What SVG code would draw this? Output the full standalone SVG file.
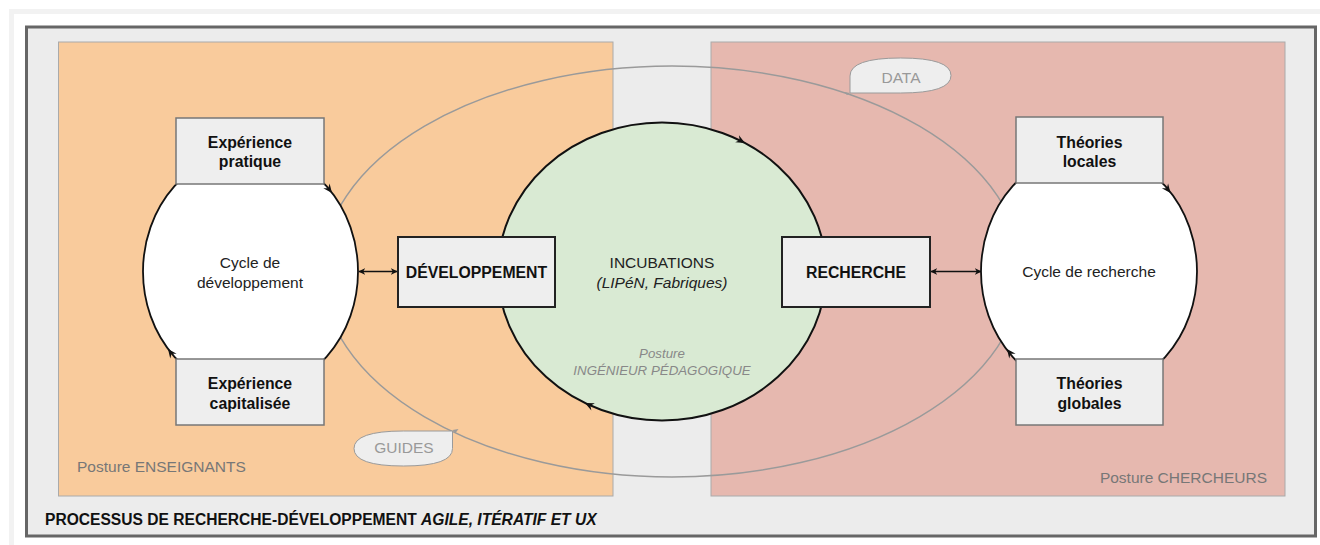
<svg xmlns="http://www.w3.org/2000/svg" width="1320" height="545" viewBox="0 0 1320 545">
<defs>
<style>
text{font-family:"Liberation Sans",Arial,sans-serif;}
.b{font-weight:bold;font-size:15.8px;fill:#111;text-anchor:middle;}
.r{font-size:15.5px;fill:#222;text-anchor:middle;}
.box{fill:#eeeeee;stroke:#777;stroke-width:1.5;}
.bbox{fill:#eeeeee;stroke:#222;stroke-width:2;}
.cyc{fill:#ffffff;stroke:#111;stroke-width:1.8;}
.gl{fill:none;stroke:#9a9a9a;stroke-width:1.5;}
.call{fill:#eeeeee;stroke:#9a9a9a;stroke-width:1;}
.ct{font-size:15.5px;fill:#999;text-anchor:middle;}
.post{font-size:15.5px;fill:#777;}
.ah{fill:#111;}
</style>
<marker id="arr" viewBox="0 0 10 10" refX="9" refY="5" markerWidth="7" markerHeight="7" orient="auto-start-reverse" markerUnits="userSpaceOnUse">
<path d="M0,0 L10,5 L0,10 L3,5 Z" fill="#111"/>
</marker>
</defs>
<rect x="0" y="0" width="1320" height="545" fill="#ffffff"/>
<rect x="11.5" y="11.5" width="1320" height="545" fill="none" stroke="#f2f2f2" stroke-width="5"/>
<rect id="frame" x="26.5" y="27" width="1289" height="509" fill="#ececec" stroke="#666" stroke-width="3"/>
<g id="zone-enseignants">
<rect x="58.5" y="42" width="554.5" height="454" fill="#f9cb9c" stroke="#aaa" stroke-width="1"/>
<text class="post" x="77" y="472">Posture ENSEIGNANTS</text>
</g>
<g id="zone-chercheurs">
<rect x="711" y="42" width="574" height="454" fill="#e6b8af" stroke="#aaa" stroke-width="1"/>
<text class="post" x="1267" y="483" text-anchor="end">Posture CHERCHEURS</text>
</g>
<g id="connectors">
<ellipse class="gl" cx="672" cy="271.5" rx="350" ry="205.5"/>
<path d="M850,93 l-6,-1 l3,3 z" fill="#9a9a9a"/>
<path d="M452.5,430 l6,-1 l-3,4 z" fill="#9a9a9a"/>
<line x1="359" y1="271.5" x2="397" y2="271.5" stroke="#111" stroke-width="1.5" marker-start="url(#arr)" marker-end="url(#arr)"/>
<line x1="931" y1="271.5" x2="981" y2="271.5" stroke="#111" stroke-width="1.5" marker-start="url(#arr)" marker-end="url(#arr)"/>
</g>
<g id="incubations">
<ellipse cx="662" cy="271.5" rx="164" ry="149" fill="#d9ead3" stroke="#111" stroke-width="2"/>
<path class="ah" d="M0,0 L-9,-4 L-6,0 L-9,4 Z" transform="translate(745,143) rotate(28)"/>
<path class="ah" d="M0,0 L-9,-4 L-6,0 L-9,4 Z" transform="translate(585,403) rotate(206)"/>
<text class="r" x="662" y="268">INCUBATIONS</text>
<text class="r" x="662" y="288" font-style="italic">(LIPéN, Fabriques)</text>
<text x="662" y="358" font-size="13.3" font-style="italic" fill="#888" text-anchor="middle">Posture</text>
<text x="662" y="375" font-size="13.3" font-style="italic" fill="#888" text-anchor="middle">INGÉNIEUR PÉDAGOGIQUE</text>
</g>
<g id="cycle-dev">
<ellipse class="cyc" cx="250.5" cy="271.5" rx="107.5" ry="120.6"/>
<path class="ah" d="M0,0 L-9,-4 L-6,0 L-9,4 Z" transform="translate(332,193) rotate(52)"/>
<path class="ah" d="M0,0 L-9,-4 L-6,0 L-9,4 Z" transform="translate(168,349) rotate(233)"/>
<text class="r" x="250" y="268">Cycle de</text>
<text class="r" x="250" y="288">développement</text>
</g>
<g id="cycle-rech">
<ellipse class="cyc" cx="1089" cy="271.5" rx="108" ry="120.6"/>
<path class="ah" d="M0,0 L-9,-4 L-6,0 L-9,4 Z" transform="translate(1170.5,193) rotate(52)"/>
<path class="ah" d="M0,0 L-9,-4 L-6,0 L-9,4 Z" transform="translate(1007,349) rotate(233)"/>
<text class="r" x="1089" y="277">Cycle de recherche</text>
</g>
<g id="exp-pratique">
<rect class="box" x="176" y="118" width="148" height="66"/>
<text class="b" x="250" y="148">Expérience</text>
<text class="b" x="250" y="167">pratique</text>
</g>
<g id="exp-capitalisee">
<rect class="box" x="176" y="359" width="148" height="66"/>
<text class="b" x="250" y="389">Expérience</text>
<text class="b" x="250" y="409">capitalisée</text>
</g>
<g id="theories-locales">
<rect class="box" x="1016" y="117" width="147" height="66"/>
<text class="b" x="1089.5" y="148">Théories</text>
<text class="b" x="1089.5" y="167">locales</text>
</g>
<g id="theories-globales">
<rect class="box" x="1016" y="359" width="147" height="66"/>
<text class="b" x="1089.5" y="389">Théories</text>
<text class="b" x="1089.5" y="409">globales</text>
</g>
<g id="developpement">
<rect class="bbox" x="398" y="237" width="157" height="70"/>
<text class="b" x="476.5" y="278">DÉVELOPPEMENT</text>
</g>
<g id="recherche">
<rect class="bbox" x="782" y="237" width="148" height="70"/>
<text class="b" x="856" y="278">RECHERCHE</text>
</g>
<g id="data">
<path class="call" d="M850,93 L850,76 Q850,58 900.5,58 Q951,58 951,75.5 Q951,93 900.5,93 Z"/>
<text class="ct" x="901" y="83">DATA</text>
</g>
<g id="guides">
<path class="call" d="M452.5,431 L452.5,448.5 Q452.5,466 403.5,466 Q354,466 354,448.5 Q354,431 403.5,431 Z"/>
<text class="ct" x="404" y="453">GUIDES</text>
</g>
<g id="title">
<text x="45" y="525" font-size="15.6" font-weight="bold" fill="#111">PROCESSUS DE RECHERCHE-DÉVELOPPEMENT <tspan font-style="italic">AGILE, ITÉRATIF ET UX</tspan></text>
</g>
</svg>
